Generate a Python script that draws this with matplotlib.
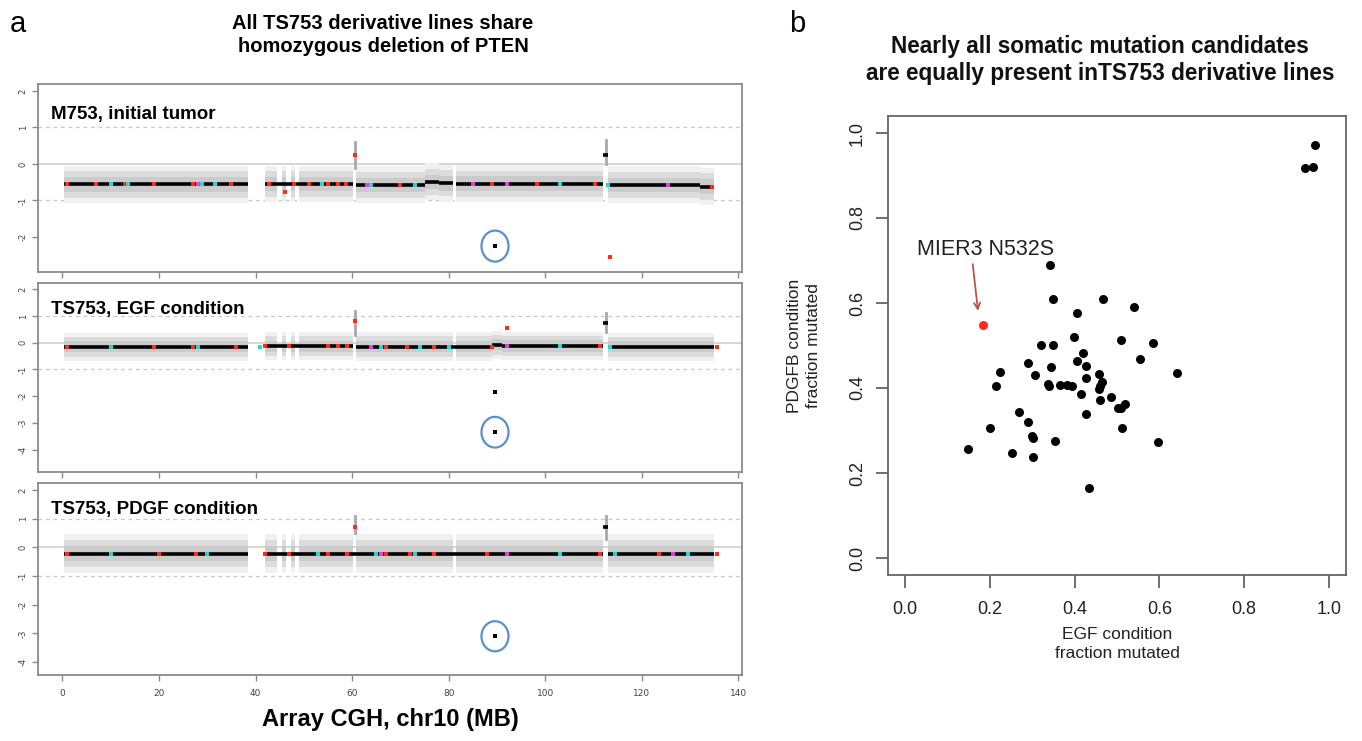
"""Panel a: array CGH of chr10 for three lines; panel b: fraction mutated scatter."""
import numpy as np
import matplotlib
matplotlib.use("Agg")
from matplotlib import pyplot as plt
from matplotlib.patches import Ellipse

W, H = 1362, 741

# ---- panel a data (chr10, MB) ----
cgh_pieces = [(0.3, 38.5), (42.0, 44.5), (45.5, 46.3), (47.4, 48.1), (49.0, 60.2),
              (60.8, 81.0), (81.6, 112.0), (113.0, 135.0)]

panel_names = ["M753, initial tumor", "TS753, EGF condition", "TS753, PDGF condition"]

seg_m753 = [(0.3, 38.5, -0.56), (42.0, 60.2, -0.55), (60.8, 75.0, -0.57), (75.0, 78.0, -0.49),
            (78.0, 81.0, -0.53), (81.6, 112.0, -0.54), (112.0, 113.0, 0.25),
            (113.0, 132.0, -0.57), (132.0, 135.0, -0.62)]
seg_egf = [(0.3, 38.5, -0.15), (42.0, 60.2, -0.13), (60.8, 89.0, -0.14), (89.0, 91.0, -0.08),
           (91.0, 112.0, -0.12), (112.0, 113.0, 0.73), (113.0, 135.0, -0.15)]
seg_pdgf = [(0.3, 38.5, -0.22), (42.0, 112.0, -0.22), (112.0, 113.0, 0.70), (113.0, 135.0, -0.22)]
segments = [seg_m753, seg_egf, seg_pdgf]

cloud_spread = [0.36, 0.38, 0.48]

# vertical streaks of probes at the two amplified spots (x, low, high)
streaks = [[(60.5, -0.1, 0.6), (112.5, 0.0, 0.65)],
           [(60.5, 0.3, 1.2), (112.5, 0.4, 1.1)],
           [(60.5, 0.5, 1.1), (112.5, 0.3, 1.1)]]

red_marks = [[1, 7, 13, 19, 27, 35, 42.7, 48, 51, 55, 57, 58.7, 70, 89, 98.4, 110.4, 134.5],
             [1, 19, 27, 36, 42, 47, 55, 57, 59, 67, 71.3, 77, 89, 111.4, 135.5],
             [1, 20, 27.6, 42, 47, 55, 59, 67, 72, 77, 88, 111.4, 123.5, 135.5]]
cyan_marks = [[10, 13.5, 29, 31.6, 53.7, 64, 73, 103, 113],
              [10, 28, 41, 66, 74, 80, 103, 113.5],
              [10, 30, 53, 65, 73, 103, 114.5, 129.5]]
magenta_marks = [[28, 63, 85, 92, 125.5],
                 [64, 92],
                 [66, 92, 126.5]]

# single outlier probes (x, y, colour)
outliers = [[(60.5, 0.25, "red"), (113.5, -2.55, "red"), (46.0, -0.78, "red"), (89.6, -2.25, "black")],
            [(60.5, 0.80, "red"), (92.0, 0.55, "red"), (89.6, -1.85, "black"), (89.6, -3.35, "black")],
            [(60.5, 0.72, "red"), (89.6, -3.10, "black")]]

pten_pos = 89.6
pten_val = [-2.25, -3.35, -3.10]

# ---- panel b data ----
egf_frac = [0.967, 0.944, 0.962,
            0.342, 0.350, 0.467, 0.541, 0.406, 0.398, 0.509, 0.585, 0.320, 0.350,
            0.421, 0.554, 0.289, 0.406, 0.427, 0.345, 0.225, 0.306, 0.458, 0.642,
            0.427, 0.215, 0.337, 0.340, 0.366, 0.383, 0.394, 0.464, 0.461, 0.458,
            0.415, 0.485, 0.461, 0.503, 0.509, 0.519, 0.268, 0.427, 0.289, 0.201,
            0.512, 0.299, 0.302, 0.354, 0.596, 0.149, 0.252, 0.302, 0.435]
pdgf_frac = [0.972, 0.917, 0.921,
             0.689, 0.609, 0.610, 0.591, 0.576, 0.521, 0.514, 0.507, 0.501, 0.501,
             0.482, 0.468, 0.460, 0.464, 0.451, 0.449, 0.437, 0.430, 0.434, 0.435,
             0.423, 0.405, 0.409, 0.404, 0.408, 0.408, 0.404, 0.413, 0.405, 0.397,
             0.385, 0.380, 0.372, 0.354, 0.353, 0.363, 0.343, 0.339, 0.320, 0.307,
             0.306, 0.287, 0.282, 0.276, 0.274, 0.257, 0.246, 0.237, 0.164]
mier3_egf, mier3_pdgf = 0.184, 0.549

narrow = ["Liberation Sans Narrow", "Liberation Sans", "DejaVu Sans"]
arial = ["Liberation Sans", "DejaVu Sans"]


def px_axes(fig, left, top, right, bottom):
    return fig.add_axes([left / W, 1 - bottom / H, (right - left) / W, (bottom - top) / H])


fig = plt.figure(figsize=(W / 100, H / 100), dpi=100)

panel_boxes = [(38.3, 84, 741.7, 272), (38.3, 282.7, 741.7, 471.7), (38.3, 482.7, 741.7, 675)]
panel_ylims = [(-2.96, 2.19), (-4.83, 2.25), (-4.45, 2.25)]
panel_yticks = [[-2, -1, 0, 1, 2], [-4, -3, -2, -1, 0, 1, 2], [-4, -3, -2, -1, 0, 1, 2]]
ellipse_h = [0.85, 1.15, 1.05]

for i in range(3):
    ax = px_axes(fig, *panel_boxes[i])
    ax.set_xlim(-5.0, 140.7)
    ax.set_ylim(*panel_ylims[i])
    ax.axhline(0, color="#d0d0d0", lw=1.2, zorder=1)
    for yy in (1, -1):
        ax.axhline(yy, color="#c8c8c8", lw=0.9, ls=(0, (3, 3)), zorder=1)

    for (a, b) in cgh_pieces:
        # probe cloud shown as a band around the segment level
        xs, ys = [], []
        for s in segments[i]:
            if s[1] - s[0] < 1.5:
                continue
            lo, hi = max(a, s[0]), min(b, s[1])
            if hi > lo:
                xs += [lo, hi]
                ys += [s[2], s[2]]
        if not xs:
            xs, ys = [a, b], [segments[i][0][2]] * 2
        xs, ys = np.array(xs), np.array(ys)
        sp = cloud_spread[i]
        ax.fill_between(xs, ys - sp * 1.4, ys + sp * 1.4, color="#f0f0f0", lw=0, zorder=2)
        ax.fill_between(xs, ys - sp, ys + sp, color="#dcdcdc", lw=0, zorder=2)
        ax.fill_between(xs, ys - sp * 0.55, ys + sp * 0.55, color="#cbcbcb", lw=0, zorder=2)

    for (sx, lo, hi) in streaks[i]:
        ax.plot([sx, sx], [lo, hi], color="#a8a8a8", lw=2.0, zorder=3)

    for (a, b, lv) in segments[i]:
        ax.plot([a, b], [lv, lv], color="black", lw=2.6, solid_capstyle="butt", zorder=4)

    def level(x):
        for (a, b, lv) in segments[i]:
            if a <= x <= b and b - a > 1.5:
                return lv
        return segments[i][0][2]

    for marks, col in ((red_marks[i], "#ff2a1a"), (cyan_marks[i], "#22d6d6"), (magenta_marks[i], "#e040e0")):
        ax.scatter(marks, [level(m) for m in marks], s=9, marker="s", color=col, lw=0, zorder=5)

    for (ox, oy, col) in outliers[i]:
        c = "#ff2a1a" if col == "red" else "black"
        ax.scatter([ox], [oy], s=7, marker="s", color=c, lw=0, zorder=5)

    ax.add_patch(Ellipse((pten_pos, pten_val[i]), 5.6, ellipse_h[i], fill=False,
                         edgecolor="#5b8fd4", lw=1.6, zorder=6))

    ax.text(0.018, 0.84 if i == 0 else 0.86, panel_names[i], transform=ax.transAxes,
            fontsize=13.5, fontweight="bold", family=narrow, va="center", ha="left")

    for spine in ax.spines.values():
        spine.set_color("#8a8a8a")
        spine.set_linewidth(1.3)
    ax.set_xticks(range(0, 141, 20))
    ax.set_yticks(panel_yticks[i])
    ax.set_yticklabels([str(t) for t in panel_yticks[i]], rotation=90, va="center")
    ax.tick_params(axis="both", colors="#8a8a8a", labelcolor="#444444", labelsize=6,
                   length=4, width=1.0, direction="out")
    if i < 2:
        ax.set_xticklabels([])
    else:
        ax.tick_params(axis="x", pad=6, labelsize=6.5)
        ax.set_xlabel("Array CGH, chr10 (MB)", fontsize=17, fontweight="bold", family=narrow,
                      labelpad=7)

fig.text(18 / W, 1 - 24 / H, "a", fontsize=21, family=arial, va="center", ha="center")
fig.text(383 / W, 1 - 35 / H, "All TS753 derivative lines share\nhomozygous deletion of PTEN",
         fontsize=14.5, fontweight="bold", family=narrow, ha="center", va="center",
         linespacing=1.25)

# ---- panel b ----
bx = px_axes(fig, 888, 116, 1346, 575)
bx.scatter(egf_frac, pdgf_frac, s=42, color="black", lw=0, zorder=3)
bx.scatter([mier3_egf], [mier3_pdgf], s=42, color="#ff2a1a", lw=0, zorder=3)
bx.annotate("", xy=(mier3_egf - 0.011, mier3_pdgf + 0.026), xytext=(0.159, 0.698),
            arrowprops=dict(arrowstyle="->", color="#c0504d", lw=1.3, mutation_scale=11))
bx.text(0.191, 0.725, "MIER3 N532S", fontsize=15.5, family=arial, ha="center", va="center",
        color="#222222")
bx.set_xlim(-0.04, 1.04)
bx.set_ylim(-0.04, 1.04)
ticks = [0.0, 0.2, 0.4, 0.6, 0.8, 1.0]
bx.set_xticks(ticks)
bx.set_yticks(ticks)
bx.set_xticklabels([f"{t:.1f}" for t in ticks], family=arial)
bx.set_yticklabels([f"{t:.1f}" for t in ticks], family=arial, rotation=90, va="center")
bx.tick_params(axis="both", labelsize=13, colors="#555555", labelcolor="#222222",
               length=9, width=1.2, direction="out", pad=7)
bx.tick_params(axis="x", pad=10)
for spine in bx.spines.values():
    spine.set_color("#666666")
    spine.set_linewidth(1.3)
bx.set_xlabel("EGF condition\nfraction mutated", fontsize=12.5, family=arial, color="#222222",
              labelpad=6, linespacing=1.35)
bx.set_ylabel("PDGFB condition\nfraction mutated", fontsize=12.5, family=arial, color="#222222",
              labelpad=20, linespacing=1.35)

fig.text(797 / W, 1 - 24 / H, "b", fontsize=21, family=arial, va="center", ha="center")
fig.text(1100 / W, 1 - 60 / H,
         "Nearly all somatic mutation candidates\nare equally present inTS753 derivative lines",
         fontsize=16.3, fontweight="bold", family=arial, ha="center", va="center",
         linespacing=1.2, color="#111111")

fig.savefig("out.png", dpi=100)
